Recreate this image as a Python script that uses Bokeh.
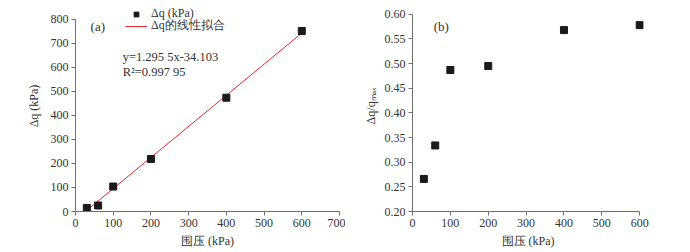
from bokeh.plotting import figure
from bokeh.layouts import row
from bokeh.models import Legend, LegendItem, Label, FixedTicker, PrintfTickFormatter
from bokeh.embed import file_html
from bokeh.resources import INLINE

# ---- data ----
confining = [30, 60, 100, 200, 400, 600]          # 围压 (kPa)
delta_q = [15, 25, 104, 219, 474, 752]            # Δq (kPa)
ratio = [0.266, 0.334, 0.487, 0.495, 0.568, 0.578]  # Δq/q_max
slope = 1.2955
intercept = -34.103
fit_range = [30, 600]
x_ticks_a = [0, 100, 200, 300, 400, 500, 600, 700]
y_ticks_a = [0, 100, 200, 300, 400, 500, 600, 700, 800]
x_ticks_b = [0, 100, 200, 300, 400, 500, 600]
y_ticks_b = [0.20, 0.25, 0.30, 0.35, 0.40, 0.45, 0.50, 0.55, 0.60]

FONT = "Liberation Serif"
AX = "#707070"
TXT = "#333333"


def style(p):
    for ax in (p.xaxis[0], p.yaxis[0]):
        ax.axis_line_color = AX
        ax.major_tick_line_color = AX
        ax.minor_tick_line_color = None
        ax.major_tick_in = 0
        ax.major_tick_out = 4
        ax.major_label_text_font = FONT
        ax.major_label_text_font_size = "12px"
        ax.major_label_text_color = TXT
        ax.major_label_standoff = 3
        ax.axis_label_text_font = FONT
        ax.axis_label_text_font_size = "12px"
        ax.axis_label_text_font_style = "normal"
        ax.axis_label_text_color = TXT
    p.xaxis[0].axis_label_standoff = 4
    p.yaxis[0].axis_label_standoff = 7
    p.grid.visible = False
    p.outline_line_color = None
    p.background_fill_color = "white"
    p.border_fill_color = "white"


def make_legend(label, renderer, loc):
    return Legend(items=[LegendItem(label=label, renderers=[renderer])],
                  location=loc, orientation="vertical",
                  padding=0, margin=0, spacing=0,
                  glyph_width=22, glyph_height=12, label_height=12,
                  label_standoff=4,
                  label_text_font=FONT, label_text_font_size="12px",
                  label_text_color=TXT,
                  border_line_alpha=0, background_fill_alpha=0)


# ---- panel (a) ----
p1 = figure(width=345, height=252, x_range=(0, 700), y_range=(0, 879),
            output_backend="svg", toolbar_location=None,
            min_border_left=75, min_border_right=6, min_border_top=0, min_border_bottom=41)
style(p1)
p1.xaxis[0].ticker = FixedTicker(ticks=x_ticks_a)
p1.yaxis[0].ticker = FixedTicker(ticks=y_ticks_a)
p1.yaxis[0].bounds = (0, 800)
p1.xaxis[0].axis_label = "围压 (kPa)"
p1.yaxis[0].axis_label = "Δq (kPa)"

fit_y = [slope * v + intercept for v in fit_range]
r_line = p1.line(fit_range, fit_y, line_color="#e8262d", line_width=1)
r_pts = p1.scatter(confining, delta_q, marker="square", size=7,
                   fill_color="#1a1a1a", line_color="#1a1a1a")

p1.add_layout(make_legend("Δq (kPa)", r_pts, (50, 190)))
p1.add_layout(make_legend("Δq的线性拟合", r_line, (50, 177)))

p1.add_layout(Label(x=40, y=771, text="(a)", text_font=FONT, text_font_size="13px",
                    text_color=TXT, text_baseline="middle"))
p1.add_layout(Label(x=125, y=642, text="y=1.295 5x-34.103", text_font=FONT,
                    text_font_size="12.5px", text_color=TXT, text_baseline="middle"))
p1.add_layout(Label(x=125, y=583, text="R²=0.997 95", text_font=FONT,
                    text_font_size="12.5px", text_color=TXT, text_baseline="middle"))

# ---- panel (b) ----
p2 = figure(width=345, height=252, x_range=(0, 610), y_range=(0.2, 0.628),
            output_backend="svg", toolbar_location=None,
            min_border_left=67, min_border_right=47, min_border_top=0, min_border_bottom=39)
style(p2)
p2.xaxis[0].ticker = FixedTicker(ticks=x_ticks_b)
p2.xaxis[0].bounds = (0, 600)
p2.yaxis[0].ticker = FixedTicker(ticks=y_ticks_b)
p2.yaxis[0].bounds = (0.2, 0.6)
p2.yaxis[0].formatter = PrintfTickFormatter(format="%.2f")
p2.yaxis[0].axis_label_standoff = 4
p2.xaxis[0].axis_label = "围压 (kPa)"
p2.yaxis[0].axis_label = "Δq/qₘₐₓ"

p2.scatter(confining, ratio, marker="square", size=7,
           fill_color="#1a1a1a", line_color="#1a1a1a")
p2.add_layout(Label(x=56, y=0.575, text="(b)", text_font=FONT, text_font_size="13px",
                    text_color=TXT, text_baseline="middle"))

layout = row(p1, p2)
open("out.html", "w").write(file_html(layout, INLINE))
